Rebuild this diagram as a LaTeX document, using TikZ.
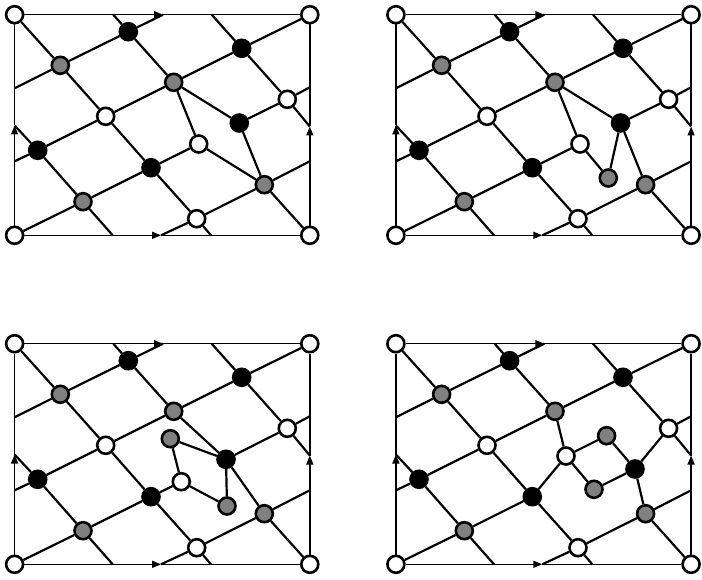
\documentclass[tikz,border=0pt]{standalone}
\usepackage{tikz}
\usetikzlibrary{arrows.meta}
\tikzset{
  vert/.style={circle, draw=black, line width=2.6bp, minimum size=17bp, inner sep=0pt},
  whitevert/.style={vert, fill=white},
  greyvert/.style={vert, fill=black!50},
  blackvert/.style={vert, fill=black},
  net/.style={line width=2.2bp},
  frame/.style={line width=1.5bp},
  glue/.style={-{Triangle[length=9bp,width=7bp]}},
}
% the part that all four panels share
\newcommand{\basenet}{
  \node[whitevert] (tl) at (14.6,14.7) {};
  \node[whitevert] (tr) at (309.8,14.7) {};
  \node[whitevert] (bl) at (14.6,235.3) {};
  \node[whitevert] (br) at (309.8,235.3) {};
  \node[blackvert] (b1) at (128.3,31.7) {};
  \node[blackvert] (b2) at (241.7,48.3) {};
  \node[blackvert] (b3) at (37.7,150.3) {};
  \node[blackvert] (b4) at (151,167.7) {};
  \node[greyvert] (g1) at (60.3,65.3) {};
  \node[greyvert] (g2) at (173.7,82.3) {};
  \node[greyvert] (g3) at (83,201.7) {};
  \node[greyvert] (g4) at (264.3,184.7) {};
  \node[whitevert] (w1) at (105.7,116.3) {};
  \node[whitevert] (w2) at (287.3,99.3) {};
  \node[whitevert] (w3) at (196.7,218.7) {};
  \coordinate (top1) at (113.3,14.7);
  \coordinate (top2) at (163,14.7);
  \coordinate (top3) at (211.7,14.7);
  \coordinate (bot1) at (112.7,235.3);
  \coordinate (bot2) at (161,235.3);
  \coordinate (bot3) at (211,235.3);
  \coordinate (lft1) at (14.6,88.3);
  \coordinate (lft2) at (14.6,125.5);
  \coordinate (lft3) at (14.6,161.3);
  \coordinate (rgt1) at (309.8,87.3);
  \coordinate (rgt2) at (309.8,126.5);
  \coordinate (rgt3) at (309.8,161.3);
  % identified sides
  \draw[frame, glue] (tl) -- (top2);
  \draw[frame] (top2) -- (tr);
  \draw[frame, glue] (bl) -- (bot2);
  \draw[frame] (bot2) -- (br);
  \draw[frame, glue] (bl) -- (lft2);
  \draw[frame] (lft2) -- (tl);
  \draw[frame, glue] (br) -- (rgt2);
  \draw[frame] (rgt2) -- (tr);
  % falling lines
  \draw[net] (tl) -- (g1) -- (w1) -- (b4) -- (w3) -- (bot3);
  \draw[net] (top1) -- (b1) -- (g2);
  \draw[net] (top3) -- (b2) -- (w2) -- (rgt2);
  \draw[net] (lft2) -- (b3) -- (g3) -- (bot1);
  \draw[net] (g4) -- (br);
  % rising lines
  \draw[net] (lft1) -- (g1) -- (b1) -- (top2);
  \draw[net] (lft3) -- (b3) -- (w1) -- (g2) -- (b2) -- (tr);
  \draw[net] (bl) -- (g3) -- (b4);
  \draw[net] (bot2) -- (w3) -- (g4) -- (rgt3);
  \draw[net] (w2) -- (rgt1);
}
\begin{document}
\begin{tikzpicture}[x=1bp, y=-1bp]
\useasboundingbox (0,0) rectangle (702,580);

\begin{scope}
  \basenet
  \node[blackvert] (b5) at (239.3,123) {};
  \node[whitevert] (w4) at (198.7,144) {};
  \draw[net] (b4) -- (w4) -- (g4);
  \draw[net] (g2) -- (w4);
  \draw[net] (g2) -- (b5) -- (w2);
  \draw[net] (b5) -- (g4);
\end{scope}

\begin{scope}[shift={(381.3,0)}]
  \basenet
  \node[blackvert] (b5) at (239.3,123) {};
  \node[whitevert] (w4) at (198.7,144) {};
  \node[greyvert] (g5) at (227,178) {};
  \draw[net] (b4) -- (w4) -- (g5) -- (b5);
  \draw[net] (g2) -- (w4);
  \draw[net] (g2) -- (b5) -- (w2);
  \draw[net] (b5) -- (g4);
\end{scope}

\begin{scope}[shift={(0,329)}]
  \basenet
  \node[blackvert] (b5) at (226,130.3) {};
  \node[whitevert] (w4) at (181.3,152.7) {};
  \node[greyvert] (g5) at (170.3,109.7) {};
  \node[greyvert] (g6) at (227,177) {};
  \draw[net] (b4) -- (w4) -- (g5) -- (b5);
  \draw[net] (w4) -- (g6) -- (b5);
  \draw[net] (g2) -- (b5) -- (w2);
  \draw[net] (b5) -- (g4);
\end{scope}

\begin{scope}[shift={(381.3,329)}]
  \basenet
  \node[blackvert] (b5) at (253.7,140) {};
  \node[whitevert] (w4) at (184.7,127) {};
  \node[greyvert] (g5) at (225.3,106.7) {};
  \node[greyvert] (g6) at (212.7,160.3) {};
  \draw[net] (b4) -- (w4) -- (g5) -- (b5);
  \draw[net] (w4) -- (g6) -- (b5);
  \draw[net] (g2) -- (w4);
  \draw[net] (w2) -- (b5) -- (g4);
\end{scope}
\end{tikzpicture}
\end{document}
